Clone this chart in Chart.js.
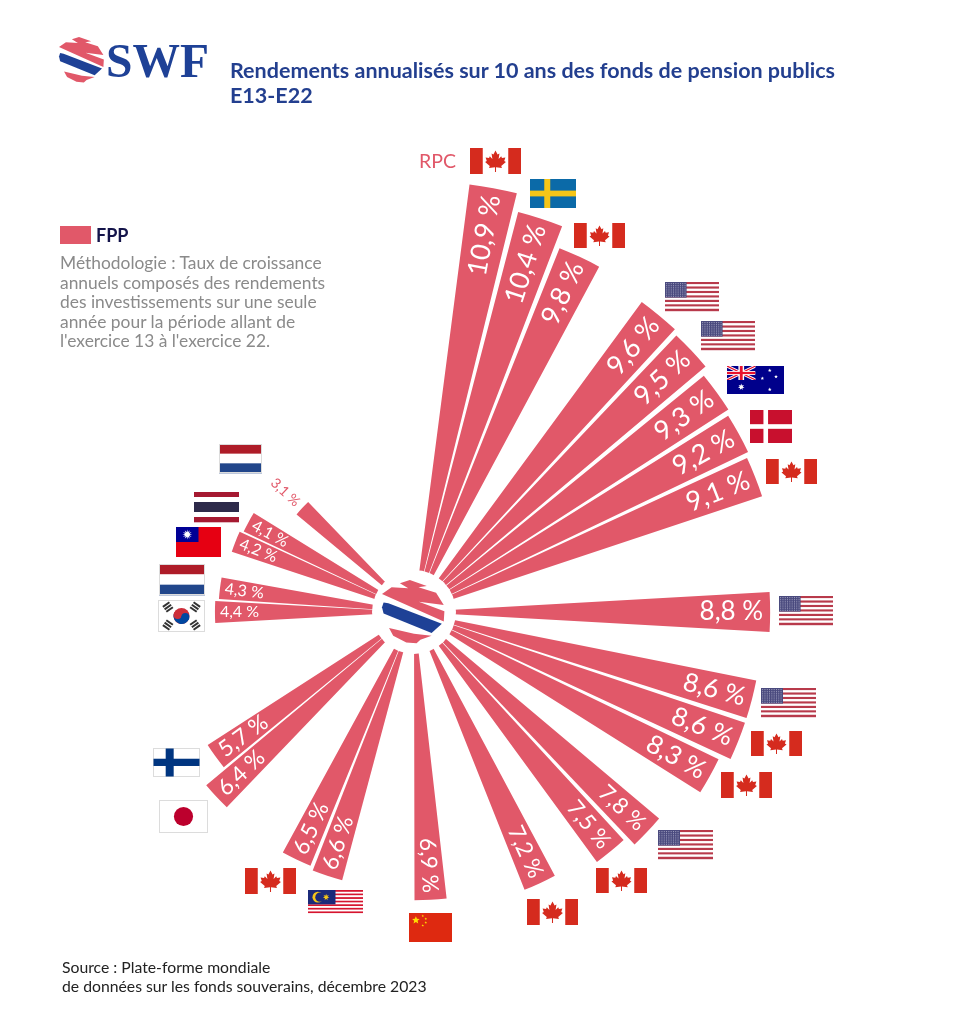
<!DOCTYPE html>
<html lang="fr">
<head>
<meta charset="utf-8">
<title>Rendements annualisés sur 10 ans</title>
<script src="https://cdn.jsdelivr.net/npm/chart.js@4"></script>
<style>
  html, body { margin: 0; padding: 0; background: #fff; }
  body { width: 960px; height: 1024px; position: relative; overflow: hidden; font-family: Lato, sans-serif; }
  #chart { position: absolute; left: -26px; top: 0; }
  .txt { position: absolute; white-space: nowrap; }
  #swf { left: 106px; top: 33px; font: bold 47.5px/56px "Liberation Serif", serif; color: #1e4196; }
  #title { left: 230px; top: 58px; font-size: 21.5px; line-height: 25px; font-weight: 700; color: #233f8f; }
  #key { left: 60px; top: 226px; width: 31px; height: 18px; background: #e15869; }
  #fpp { left: 96px; top: 224px; font-size: 18px; line-height: 22px; font-weight: 700; color: #14144a; }
  #method { left: 60px; top: 253px; font-size: 17.4px; line-height: 19.6px; color: #8a8a8a; }
  #source { left: 62px; top: 958px; font-size: 15.75px; line-height: 18.5px; color: #222; }
  #rpc { left: 419px; top: 150px; font-size: 19.5px; line-height: 22px; color: #e15869; }
</style>
</head>
<body>
<canvas id="chart" width="986" height="1052"></canvas>
<div class="txt" id="swf">SWF</div>
<div class="txt" id="title">Rendements annualisés sur 10 ans des fonds de pension publics<br>E13-E22</div>
<div class="txt" id="key"></div>
<div class="txt" id="fpp">FPP</div>
<div class="txt" id="method">Méthodologie : Taux de croissance<br>annuels composés des rendements<br>des investissements sur une seule<br>année pour la période allant de<br>l'exercice 13 à l'exercice 22.</div>
<div class="txt" id="rpc">RPC</div>
<div class="txt" id="source">Source : Plate-forme mondiale<br>de données sur les fonds souverains, décembre 2023</div>

<script>
// values, clockwise from the top
const returns = [10.9, 10.4, 9.8, 9.6, 9.5, 9.3, 9.2, 9.1, 8.8, 8.6, 8.6, 8.3, 7.8, 7.5, 7.2, 6.9, 6.6, 6.5, 6.4, 5.7, 4.4, 4.3, 4.2, 4.1, 3.1];
const labels = ["10,9 %", "10,4 %", "9,8 %", "9,6 %", "9,5 %", "9,3 %", "9,2 %", "9,1 %", "8,8 %", "8,6 %", "8,6 %", "8,3 %", "7,8 %", "7,5 %", "7,2 %", "6,9 %", "6,6 %", "6,5 %", "6,4 %", "5,7 %", "4,4 %", "4,3 %", "4,2 %", "4,1 %", "3,1 %"];
const countries = ["CA", "SE", "CA", "US", "US", "AU", "DK", "CA", "US", "US", "CA", "CA", "US", "CA", "CA", "CN", "MY", "CA", "JP", "FI", "KR", "NL", "TW", "TH", "NL"];

// layout: compass bearing of each wedge, and flag boxes [x, y, w, h] in page pixels
const bearings = [10.6, 17.8, 25, 39.5, 46.7, 54, 61.2, 68.4, 90, 104.5, 111.7, 119, 133.3, 140.6, 155.1, 176.7, 198.2, 205.4, 227, 234, 270, 277, 291.5, 298.5, 312.9];
const flagBoxes = [
  [470, 148, 51, 26], [530, 179, 46, 29], [574, 223, 51, 25], [665, 282, 54, 29], [701, 321, 54, 29],
  [727, 366, 57, 28], [750, 410, 42, 33], [766, 459, 51, 25], [779, 596, 54, 29], [761, 688, 55, 29],
  [751, 731, 51, 25], [721, 772, 51, 26], [658, 830, 55, 29], [596, 868, 51, 25], [527, 899, 51, 26],
  [409, 913, 43, 29], [308, 890, 55, 25], [245, 868, 51, 26], [159, 800, 49, 33], [153, 748, 47, 29],
  [158, 600, 47, 32], [159, 564, 46, 31], [176, 527, 45, 30], [194, 492, 45, 30], [219, 444, 43, 29]
];
const canvasLeft = -26; // the canvas hangs off the page so the hub can sit left of its middle
const wedgeWidth = 6.4;
const pink = "#e15869";
const navy = "#1e4196";

// polarArea sweeps cumulatively, so every wedge is followed by an empty spacer slice
const chartData = [];
const sweeps = [];
let last = 0;
returns.forEach((v, i) => {
  chartData.push(null);
  sweeps.push(bearings[i] - wedgeWidth / 2 - last);
  chartData.push(v);
  sweeps.push(wedgeWidth);
  last = bearings[i] + wedgeWidth / 2;
});
chartData.push(null);
sweeps.push(360 - last);

function labelSize(v) {
  if (v >= 9) return 27;
  if (v >= 8) return 26;
  if (v >= 5) return 22.5;
  if (v >= 4) return 16;
  return 14;
}

function box(ctx, x, y, w, h, color) {
  ctx.fillStyle = color;
  ctx.fillRect(x, y, w, h);
}

function poly(ctx, pts, color) {
  ctx.fillStyle = color;
  ctx.beginPath();
  pts.forEach((p, i) => (i ? ctx.lineTo(p[0], p[1]) : ctx.moveTo(p[0], p[1])));
  ctx.closePath();
  ctx.fill();
}

function star(ctx, cx, cy, r, n, color) {
  const pts = [];
  for (let i = 0; i < n * 2; i++) {
    const a = (Math.PI * i) / n - Math.PI / 2;
    const q = i % 2 ? r * 0.45 : r;
    pts.push([cx + Math.cos(a) * q, cy + Math.sin(a) * q]);
  }
  poly(ctx, pts, color);
}

function stripes(ctx, x, y, w, h, colors) {
  colors.forEach((c, i) => box(ctx, x, y + (h * i) / colors.length, w, h / colors.length + 0.3, c));
}

function outline(ctx, x, y, w, h) {
  ctx.strokeStyle = "#dcdcdc";
  ctx.lineWidth = 1;
  ctx.strokeRect(x + 0.5, y + 0.5, w - 1, h - 1);
}

const leaf = [[0, -1], [0.2, -0.62], [0.38, -0.72], [0.3, -0.2], [0.55, -0.45], [0.62, -0.28], [0.95, -0.33], [0.84, 0], [1, 0.1], [0.55, 0.48], [0.62, 0.68], [0.05, 0.6], [0.05, 1.05], [-0.05, 1.05], [-0.05, 0.6], [-0.62, 0.68], [-0.55, 0.48], [-1, 0.1], [-0.84, 0], [-0.95, -0.33], [-0.62, -0.28], [-0.55, -0.45], [-0.3, -0.2], [-0.38, -0.72], [-0.2, -0.62]];

const flags = {
  CA(ctx, x, y, w, h) {
    box(ctx, x, y, w * 0.25, h, "#d52b1e");
    box(ctx, x + w * 0.75, y, w * 0.25, h, "#d52b1e");
    const s = h * 0.4;
    poly(ctx, leaf.map((p) => [x + w / 2 + p[0] * s, y + h / 2 + p[1] * s]), "#d52b1e");
  },
  US(ctx, x, y, w, h) {
    for (let i = 0; i < 13; i++) box(ctx, x, y + (h * i) / 13, w, h / 13 + 0.2, i % 2 ? "#fff" : "#b83a4b");
    box(ctx, x, y, w * 0.4, (h * 7) / 13, "#4a4a7e");
    ctx.fillStyle = "#b9b9d2";
    for (let r = 0; r < 7; r++) for (let c = 0; c < 9; c++) ctx.fillRect(x + 1.2 + c * 2.3, y + 1.2 + r * 2.1, 0.9, 0.9);
  },
  SE(ctx, x, y, w, h) {
    box(ctx, x, y, w, h, "#0b6aa8");
    box(ctx, x + w * 0.31, y, w * 0.13, h, "#f5c518");
    box(ctx, x, y + h * 0.4, w, h * 0.2, "#f5c518");
  },
  AU(ctx, x, y, w, h) {
    box(ctx, x, y, w, h, "#00008b");
    const fw = w / 2, fh = h / 2;
    ctx.save();
    ctx.beginPath();
    ctx.rect(x, y, fw, fh);
    ctx.clip();
    ctx.strokeStyle = "#fff";
    ctx.lineWidth = 3;
    ctx.beginPath();
    ctx.moveTo(x, y); ctx.lineTo(x + fw, y + fh);
    ctx.moveTo(x + fw, y); ctx.lineTo(x, y + fh);
    ctx.stroke();
    ctx.strokeStyle = "#e8112d";
    ctx.lineWidth = 1.2;
    ctx.stroke();
    box(ctx, x + fw * 0.4, y, fw * 0.2, fh, "#fff");
    box(ctx, x, y + fh * 0.36, fw, fh * 0.28, "#fff");
    box(ctx, x + fw * 0.45, y, fw * 0.1, fh, "#e8112d");
    box(ctx, x, y + fh * 0.42, fw, fh * 0.16, "#e8112d");
    ctx.restore();
    star(ctx, x + w * 0.25, y + h * 0.75, 3.4, 7, "#fff");
    [[0.75, 0.16], [0.62, 0.44], [0.86, 0.38], [0.75, 0.84]].forEach((p) => star(ctx, x + w * p[0], y + h * p[1], 1.9, 5, "#fff"));
  },
  DK(ctx, x, y, w, h) {
    box(ctx, x, y, w, h, "#c8102e");
    box(ctx, x + w * 0.32, y, w * 0.11, h, "#fff");
    box(ctx, x, y + h * 0.43, w, h * 0.14, "#fff");
  },
  CN(ctx, x, y, w, h) {
    box(ctx, x, y, w, h, "#de2910");
    star(ctx, x + w * 0.16, y + h * 0.25, 4, 5, "#ffde00");
    [[0.32, 0.1], [0.39, 0.2], [0.39, 0.33], [0.32, 0.43]].forEach((p) => star(ctx, x + w * p[0], y + h * p[1], 1.3, 5, "#ffde00"));
  },
  MY(ctx, x, y, w, h) {
    for (let i = 0; i < 14; i++) box(ctx, x, y + (h * i) / 14, w, h / 14 + 0.2, i % 2 ? "#fff" : "#d6152f");
    const bw = w * 0.5, bh = (h * 8) / 14;
    box(ctx, x, y, bw, bh, "#1b2a7a");
    ctx.fillStyle = "#f5c518";
    ctx.beginPath();
    ctx.arc(x + bw * 0.36, y + bh / 2, bh * 0.38, 0, Math.PI * 2);
    ctx.fill();
    ctx.fillStyle = "#1b2a7a";
    ctx.beginPath();
    ctx.arc(x + bw * 0.43, y + bh / 2, bh * 0.32, 0, Math.PI * 2);
    ctx.fill();
    star(ctx, x + bw * 0.66, y + bh / 2, 3.4, 7, "#f5c518");
  },
  JP(ctx, x, y, w, h) {
    box(ctx, x, y, w, h, "#fff");
    outline(ctx, x, y, w, h);
    ctx.fillStyle = "#bc002d";
    ctx.beginPath();
    ctx.arc(x + w / 2, y + h / 2, h * 0.29, 0, Math.PI * 2);
    ctx.fill();
  },
  FI(ctx, x, y, w, h) {
    box(ctx, x, y, w, h, "#fff");
    outline(ctx, x, y, w, h);
    box(ctx, x + w * 0.27, y + 0.5, w * 0.17, h - 1, "#003580");
    box(ctx, x + 0.5, y + h * 0.37, w - 1, h * 0.25, "#003580");
  },
  KR(ctx, x, y, w, h) {
    box(ctx, x, y, w, h, "#fff");
    outline(ctx, x, y, w, h);
    const cx = x + w / 2, cy = y + h / 2, r = h * 0.25;
    ctx.fillStyle = "#cd2e3a";
    ctx.beginPath();
    ctx.arc(cx, cy, r, 0, Math.PI * 2);
    ctx.fill();
    ctx.fillStyle = "#0047a0";
    ctx.beginPath();
    ctx.arc(cx, cy, r, 0.25, Math.PI + 0.25);
    ctx.fill();
    ctx.fillStyle = "#cd2e3a";
    ctx.beginPath();
    ctx.arc(cx - r / 2 * Math.cos(0.25), cy - r / 2 * Math.sin(0.25), r / 2, 0, Math.PI * 2);
    ctx.fill();
    ctx.fillStyle = "#0047a0";
    ctx.beginPath();
    ctx.arc(cx + r / 2 * Math.cos(0.25), cy + r / 2 * Math.sin(0.25), r / 2, 0, Math.PI * 2);
    ctx.fill();
    [[-1, -1], [1, -1], [-1, 1], [1, 1]].forEach((q) => {
      ctx.save();
      ctx.translate(cx + q[0] * w * 0.29, cy + q[1] * h * 0.28);
      ctx.rotate((q[0] * q[1] * -35 * Math.PI) / 180);
      ctx.fillStyle = "#333";
      [-3, 0, 3].forEach((d) => ctx.fillRect(-4, d - 1, 8, 2));
      ctx.restore();
    });
  },
  NL(ctx, x, y, w, h) {
    stripes(ctx, x, y, w, h, ["#ae1c28", "#fff", "#21468b"]);
    outline(ctx, x, y, w, h);
  },
  TW(ctx, x, y, w, h) {
    box(ctx, x, y, w, h, "#e60012");
    box(ctx, x, y, w / 2, h / 2, "#000095");
    star(ctx, x + w / 4, y + h / 4, 5, 12, "#fff");
  },
  TH(ctx, x, y, w, h) {
    stripes(ctx, x, y, w, h, ["#a51931", "#fff", "#2d2a4a", "#2d2a4a", "#fff", "#a51931"]);
  }
};

// logo shapes, unit circle coordinates
const logoPink = [[-1, -0.56], [-0.7, -0.77], [-0.18, -0.74], [-0.44, -0.9], [-0.13, -1], [0.4, -0.81], [0.14, -0.77], [0.69, -0.6], [0.93, -0.22], [0.15, -0.32], [0.95, -0.02], [0.93, 0.3]];
const logoBlue = [[-0.95, -0.3], [-0.8, -0.27], [0.87, 0.37], [0.55, 0.66], [-0.95, 0.05], [-1, -0.15]];
const logoLow = [[-0.78, 0.5], [0, 0.68], [0.55, 0.74], [0.2, 0.87], [0.08, 0.98], [-0.24, 0.95], [-0.65, 0.74]];

function drawLogo(ctx, cx, cy, r) {
  const map = (p) => [cx + p[0] * r, cy + p[1] * r];
  poly(ctx, logoPink.map(map), pink);
  poly(ctx, logoBlue.map(map), navy);
  poly(ctx, logoLow.map(map), pink);
}

const decorations = {
  id: "decorations",
  afterDatasetsDraw(chart) {
    const ctx = chart.ctx;
    const scale = chart.scales.r;
    const cx = scale.xCenter;
    const cy = scale.yCenter;

    // hub
    ctx.fillStyle = "#fff";
    ctx.beginPath();
    ctx.arc(cx, cy, scale.getDistanceFromCenterForValue(0), 0, Math.PI * 2);
    ctx.fill();
    drawLogo(ctx, cx, cy, 32);

    // value labels run along their wedge
    returns.forEach((v, i) => {
      const a = (bearings[i] * Math.PI) / 180;
      const rightSide = bearings[i] < 180;
      const outside = v < 4;
      ctx.save();
      ctx.font = "400 " + labelSize(v) + "px Lato, sans-serif";
      let d = scale.getDistanceFromCenterForValue(v) - (v < 5 ? 5 : 7);
      if (outside) d += 11 + ctx.measureText(labels[i]).width;
      ctx.translate(cx + Math.sin(a) * d, cy - Math.cos(a) * d);
      ctx.rotate(a - (rightSide ? Math.PI / 2 : (3 * Math.PI) / 2));
      ctx.textAlign = rightSide ? "right" : "left";
      ctx.textBaseline = "middle";
      ctx.fillStyle = outside ? pink : "#fff";
      ctx.fillText(labels[i], 0, 0);
      ctx.restore();
    });

    // flags and the header logo use page pixels
    ctx.save();
    ctx.translate(-canvasLeft, 0);
    drawLogo(ctx, 82, 60, 23);
    countries.forEach((c, i) => {
      const b = flagBoxes[i];
      flags[c](ctx, b[0], b[1], b[2], b[3]);
    });
    ctx.restore();
  }
};

new Chart(document.getElementById("chart"), {
  type: "polarArea",
  data: {
    labels: chartData.map((v) => (v === null ? "" : "FPP")),
    datasets: [
      {
        label: "FPP",
        data: chartData,
        backgroundColor: pink,
        borderWidth: 0,
        angle: (c) => sweeps[c.dataIndex]
      }
    ]
  },
  options: {
    responsive: false,
    animation: false,
    events: [],
    layout: { padding: { left: 0, right: 106, top: 172, bottom: 0 } },
    scales: {
      r: {
        display: false,
        min: -1.176,
        max: 11.149,
        startAngle: 0,
        ticks: { display: false },
        pointLabels: { display: false }
      }
    },
    plugins: { legend: { display: false }, tooltip: { enabled: false } }
  },
  plugins: [decorations]
});
</script>
</body>
</html>
